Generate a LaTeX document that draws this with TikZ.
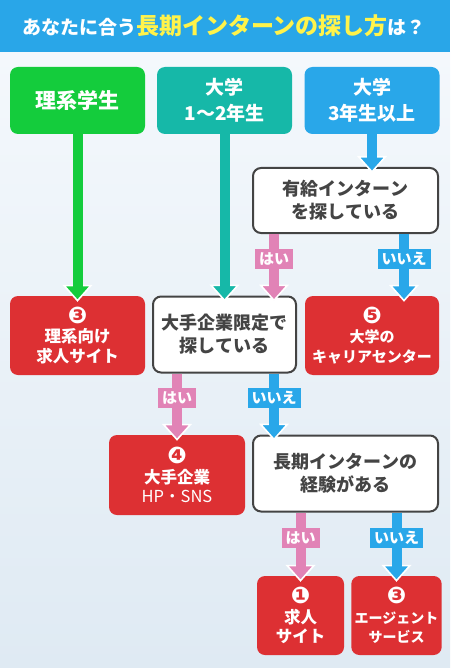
\documentclass[tikz,border=0pt]{standalone}
\usepackage{fontspec}
\setmainfont{Noto Sans CJK JP}
\newfontfamily\numfont{DejaVu Sans}
\usetikzlibrary{arrows.meta,calc}
\definecolor{barblue}{HTML}{29A6E8}
\definecolor{titleyellow}{HTML}{FFF34A}
\definecolor{rikeigreen}{HTML}{14CC3C}
\definecolor{lowteal}{HTML}{16B8A8}
\definecolor{upblue}{HTML}{29A7E9}
\definecolor{yespink}{HTML}{E183B6}
\definecolor{goalred}{HTML}{DD3033}
\definecolor{askgray}{HTML}{444444}
\definecolor{bgtop}{HTML}{F4F8FC}
\definecolor{bgbottom}{HTML}{DFEAF3}
\tikzset{
	startbox/.style={fill=#1, rounded corners=8pt, text=white, align=center,
		minimum width=135pt, minimum height=67pt, font=\bfseries\fontsize{19}{26}\selectfont},
	askbox/.style={draw=askgray, line width=2pt, fill=white, rounded corners=8pt, text=askgray,
		align=center, minimum height=76pt, font=\bfseries\fontsize{18}{23}\selectfont},
	goalbox/.style={fill=goalred, rounded corners=8pt, text=white, align=center,
		minimum height=79pt, font=\bfseries\fontsize{16.5}{19.5}\selectfont},
	answer/.style={fill=#1, text=white, inner xsep=4pt, inner ysep=0pt, minimum height=20pt,
		font=\bfseries\fontsize{15}{15}\selectfont},
	flow/.style={draw=#1, line width=10pt, shorten >=5pt,
		preaction={draw=#1, line width=10pt, shorten >=-6pt,
			-{Triangle[width=30pt,length=17pt,line width=1.6pt,color=white,fill=#1]}}}
}
\newcommand{\goalnum}[1]{{\numfont\fontsize{23}{23}\selectfont #1}\\[0pt]}

\begin{document}
\begin{tikzpicture}[x=1pt,y=-1pt]
			%%%%% START %%%%%
			\useasboundingbox (0,0) rectangle (450,668);
			\shade[top color=bgtop, bottom color=bgbottom] (0,52) rectangle (450,668);
			\fill[barblue] (0,0) rectangle (450,52);
			
			\node[font=\bfseries] (title) at (224,26) {%
				\fontsize{19}{19}\selectfont\color{white}あなたに合う%
				\fontsize{23}{23}\selectfont\color{titleyellow}長期インターンの探し方%
				\fontsize{19}{19}\selectfont\color{white}は？};
			
			% who are you
			\node[startbox=rikeigreen, font=\bfseries\fontsize{21}{26}\selectfont] (rikei) at (77.5,100.5) {理系学生};
			\node[startbox=lowteal] (low) at (224.5,100.5) {大学\\1〜2年生};
			\node[startbox=upblue] (up) at (372,100.5) {大学\\3年生以上};
			
			% questions
			\node[askbox, minimum width=185pt, minimum height=65pt] (paid) at (345.5,200.5) {有給インターン\\を探している};
			\node[askbox, minimum width=143pt] (bigco) at (224.5,334.5) {大手企業限定で\\探している};
			\node[askbox, minimum width=185pt] (exp) at (345.5,473.5) {長期インターンの\\経験がある};
			
			% where to look
			\node[goalbox, minimum width=135pt] (rikeisite) at (77.5,335.5) {\goalnum{❸}理系向け\\求人サイト};
			\node[goalbox, minimum width=134pt, font=\bfseries\fontsize{15}{19.5}\selectfont] (career) at (372,335.5) {\goalnum{❺}大学の\\キャリアセンター};
			\node[goalbox, minimum width=136pt, minimum height=80pt] (bigsns) at (177,475) {\goalnum{❹}大手企業\\{\mdseries HP・SNS}};
			\node[goalbox, minimum width=87pt] (jobsite) at (300.5,615.5) {\goalnum{❶}求人\\サイト};
			\node[goalbox, minimum width=87pt, font=\bfseries\fontsize{14}{19.5}\selectfont] (agent) at (396.5,615.5) {\goalnum{❸}エージェント\\サービス};
			
			% arrows
			\draw[flow=rikeigreen] (rikei.south) -- (rikeisite.north);
			\draw[flow=lowteal] (low.south) -- (bigco.north);
			\draw[flow=upblue] (up.south) -- (up.south |- paid.north);
			
			\draw[flow=yespink] ([xshift=22pt]paid.south west) -- ([xshift=22pt]paid.south west |- bigco.north)
				node[answer=yespink, pos=0.4] (paidyes) {はい};
			\draw[flow=upblue] ([xshift=-35pt]paid.south east) -- ([xshift=-35pt]paid.south east |- career.north)
				node[answer=upblue, pos=0.4] (paidno) {いいえ};
			
			\draw[flow=yespink] (bigsns.north |- bigco.south) -- (bigsns.north)
				node[answer=yespink, pos=0.4] (bigyes) {はい};
			\draw[flow=upblue] ([xshift=-23pt]bigco.south east) -- ([xshift=-23pt]bigco.south east |- exp.north)
				node[answer=upblue, pos=0.4] (bigno) {いいえ};
			
			\draw[flow=yespink] (jobsite.north |- exp.south) -- (jobsite.north)
				node[answer=yespink, pos=0.4] (expyes) {はい};
			\draw[flow=upblue] (agent.north |- exp.south) -- (agent.north)
				node[answer=upblue, pos=0.4] (expno) {いいえ};
			%%%%% END %%%%%
\end{tikzpicture}
\end{document}
